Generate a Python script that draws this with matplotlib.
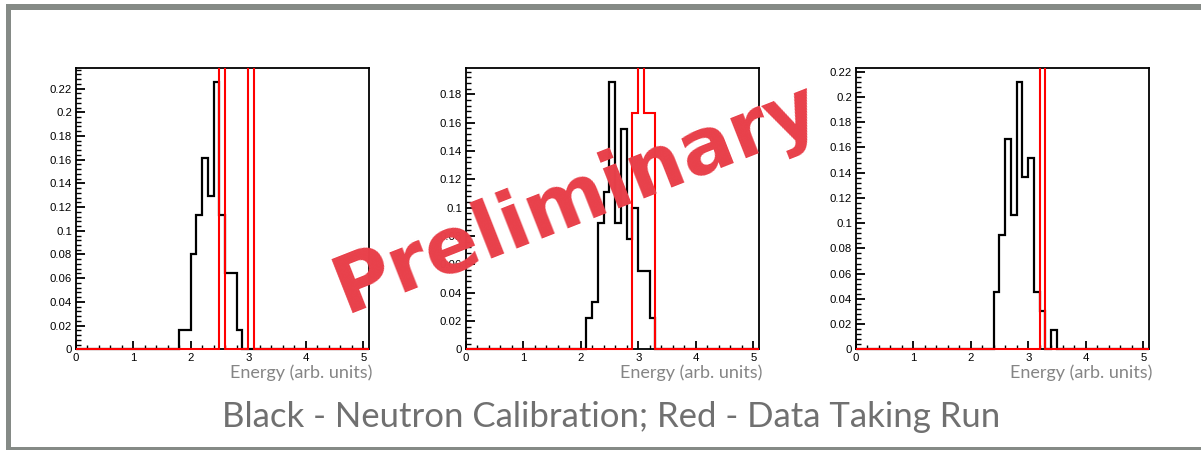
import numpy as np
import matplotlib
matplotlib.use("Agg")
import matplotlib.pyplot as plt
from matplotlib.patches import Rectangle
from matplotlib.ticker import MultipleLocator, FuncFormatter

# ---------------- data ----------------
bin_width = 0.1
n_bins = 51  # 0 .. 5.1

# panel 1
black1_start = 1.8
black1 = [0.0161, 0.0161, 0.0806, 0.1129, 0.1613, 0.1290, 0.2258, 0.1129, 0.0645, 0.0645, 0.0161]
red1_start = 2.5
red1 = [0.5, 0.0, 0.0, 0.0, 0.0, 0.5]

# panel 2
black2_start = 2.1
black2 = [0.0222, 0.0333, 0.0889, 0.1111, 0.1889, 0.0889, 0.1556, 0.0778, 0.1000, 0.0556, 0.0556, 0.0222]
red2_start = 2.9
red2 = [0.1667, 0.5, 0.1667, 0.1667]

# panel 3
black3_start = 2.4
black3 = [0.0455, 0.0909, 0.1667, 0.1061, 0.2121, 0.1364, 0.1515, 0.0455, 0.0303, 0.0, 0.0152]
red3_start = 3.2
red3 = [1.0]

x_label = "Energy (arb. units)"
title = "Black - Neutron Calibration; Red - Data Taking Run"
watermark = "Preliminary"

panels = [(black1_start, black1, red1_start, red1),
          (black2_start, black2, red2_start, red2),
          (black3_start, black3, red3_start, red3)]

edges = np.round(np.arange(n_bins + 1) * bin_width, 2)


def full_hist(start, vals):
    h = np.zeros(n_bins)
    i0 = int(round(start / bin_width))
    h[i0:i0 + len(vals)] = vals
    return h


# ---------------- figure ----------------
W, H = 1201, 450
DPI = 100
fig = plt.figure(figsize=(W / DPI, H / DPI), dpi=DPI)
fig.patch.set_facecolor("white")

tick_font = "Liberation Sans"
label_font = ["Lato", "DejaVu Sans"]
label_color = "#858585"

ax_lefts = [75.7, 465.7, 855.7]
ax_w = 293.3
ax_top = 68.3
ax_bot = 349.3

axes = []
for (bs, bv, rs, rv), lx in zip(panels, ax_lefts):
    ax = fig.add_axes([lx / W, 1 - ax_bot / H, ax_w / W, (ax_bot - ax_top) / H])
    axes.append(ax)
    hb = full_hist(bs, bv)
    hr = full_hist(rs, rv)
    clip = Rectangle((0, -0.03), 1, 1.03, transform=ax.transAxes, facecolor="none", edgecolor="none")
    ax.add_patch(clip)
    sb = ax.stairs(hb, edges, color="black", lw=1.6, baseline=None, zorder=3)
    sr = ax.stairs(hr, edges, color="#ff0000", lw=1.5, baseline=None, zorder=4)
    sb.set_clip_path(clip)
    sr.set_clip_path(clip)
    ax.set_xlim(0, 5.1)
    ax.set_ylim(0, max(bv) * 1.05)
    ax.xaxis.set_major_locator(MultipleLocator(1))
    ax.xaxis.set_minor_locator(MultipleLocator(0.2))
    ax.yaxis.set_major_locator(MultipleLocator(0.02))
    ax.yaxis.set_minor_locator(MultipleLocator(0.004))
    ax.yaxis.set_major_formatter(FuncFormatter(lambda v, p: ("%.2f" % v).rstrip("0").rstrip(".") if abs(v) > 1e-9 else "0"))
    ax.tick_params(axis="both", which="both", direction="in", top=False, right=False, color="black")
    ax.tick_params(axis="x", which="major", length=5.8, width=1.3, pad=2.5, labelsize=8.2)
    ax.tick_params(axis="x", which="minor", length=2.6, width=1.0)
    ax.tick_params(axis="y", which="major", length=6.8, width=1.3, pad=2.5, labelsize=8.2)
    ax.tick_params(axis="y", which="minor", length=3.4, width=1.0)
    for lab in ax.get_xticklabels() + ax.get_yticklabels():
        lab.set_fontfamily(tick_font)
    for sp in ax.spines.values():
        sp.set_linewidth(1.3)
        sp.set_color("black")
    ax.text(1.0126, -0.102, x_label, transform=ax.transAxes, ha="right", va="baseline",
            fontsize=12.5, family=label_font, color=label_color)

# border frame
border_col = "#858a86"
fig.patches.append(Rectangle((6 / W, 1 - 10 / H), 1 - 6 / W, 6 / H, transform=fig.transFigure,
                             facecolor=border_col, edgecolor="none", zorder=5))
fig.patches.append(Rectangle((6 / W, 0), 5 / W, 1 - 4 / H, transform=fig.transFigure,
                             facecolor=border_col, edgecolor="none", zorder=5))
fig.patches.append(Rectangle((6 / W, 0), 1 - 6 / W, 3.5 / H, transform=fig.transFigure,
                             facecolor=border_col, edgecolor="none", zorder=5))

# title
t = fig.text(611 / W, 1 - 427 / H, title, ha="center", va="baseline", fontsize=24,
             family=label_font, color="#707070")

# watermark
fig.text(577 / W, 1 - 199 / H, watermark, ha="center", va="center", rotation=21.5,
         rotation_mode="anchor", fontsize=57, fontweight="bold", family="DejaVu Sans",
         color="#e8404a", zorder=10)

# fit title width to the reference
fig.canvas.draw()
r = fig.canvas.get_renderer()
bb = t.get_window_extent(r)
t.set_fontsize(24 * 778.0 / bb.width)
for ax in axes:
    for txt in ax.texts:
        bb = txt.get_window_extent(r)
        txt.set_fontsize(txt.get_fontsize() * 143.0 / bb.width)

fig.savefig("out.png", dpi=DPI)
